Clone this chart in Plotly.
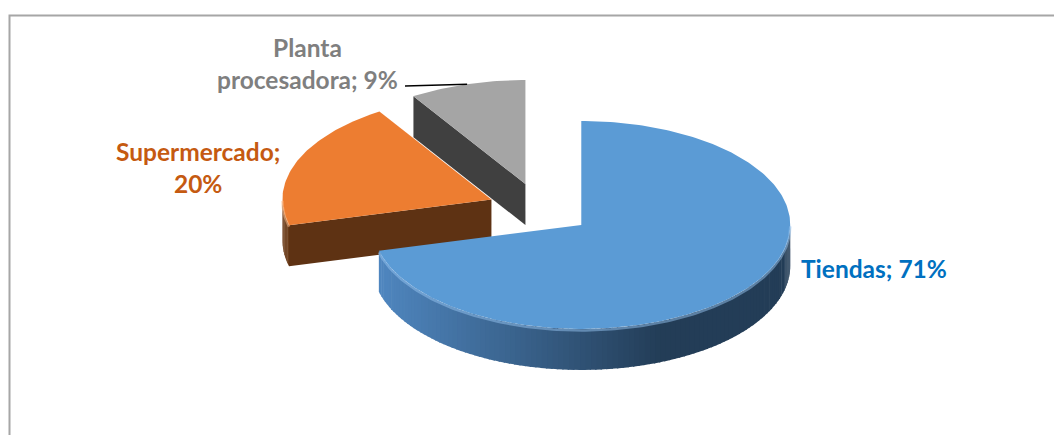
import numpy as np
import plotly.graph_objects as go

# ---- data -------------------------------------------------------------
categories = ["Tiendas", "Supermercado", "Planta procesadora"]
shares = [71, 20, 9]
label_texts = ["Tiendas; 71%", "Supermercado;<br>20%", "Planta<br>procesadora; 9%"]

# ---- styling ----------------------------------------------------------
top_colors = ["#5B9BD5", "#ED7D31", "#A5A5A5"]
wall_light = ["#4F86BF", "#6A3A17", "#404040"]
wall_dark = ["#233D57", "#5E3213", "#404040"]
face_colors = ["#233D57", "#5E3213", "#404040"]
label_colors = ["#0070C0", "#C55A11", "#7F7F7F"]
label_pos = [(799, 268, "left"), (198, 167, "center"), (307, 63, "center")]

W, H = 1054, 435
CX, CY = 540, 209        # centre of the tilted pie (plot units = px)
RX, RY = 209, 104        # ellipse radii of the top face
DEPTH = 41               # thickness of the pie
EXPLODE = 0.25           # slice offset as a fraction of the radius
X_LIGHT, X_DARK = 380, 660  # shading ramp of the curved wall
FONT = "Lato"
FONT_SIZE = 24.5


def rim(theta_deg, cx, cy, dy=0.0):
    t = np.radians(theta_deg)
    return cx + RX * np.sin(t), cy - RY * np.cos(t) + dy


def mix(c1, c2, t):
    a = [int(c1[i:i + 2], 16) for i in (1, 3, 5)]
    b = [int(c2[i:i + 2], 16) for i in (1, 3, 5)]
    return "rgb(%d,%d,%d)" % tuple(round(a[k] + (b[k] - a[k]) * t) for k in range(3))


def poly(xs, ys, color):
    return go.Scatter(x=list(xs), y=list(ys), mode="lines", fill="toself",
                      fillcolor=color, line=dict(width=0, color=color),
                      hoverinfo="skip", showlegend=False)


# slice angles, clockwise from twelve o'clock
total = float(sum(shares))
starts = np.cumsum([0] + shares[:-1]) / total * 360.0
ends = starts + np.array(shares) / total * 360.0
mids = (starts + ends) / 2.0
vertices = [(CX + EXPLODE * RX * np.sin(np.radians(m)),
             CY - EXPLODE * RY * np.cos(np.radians(m))) for m in mids]

fig = go.Figure()

# paint from the back of the pie to the front
order = sorted(range(len(shares)), key=lambda i: vertices[i][1])
for i in order:
    vx, vy = vertices[i]
    s, e = starts[i], ends[i]

    # curved outer wall: only the part facing the viewer
    lo, hi = max(s, 90.0), min(e, 270.0)
    if hi > lo:
        edges = np.linspace(lo, hi, max(2, int((hi - lo) / 1.5) + 1))
        for a0, a1 in zip(edges[:-1], edges[1:]):
            ang = np.linspace(a0, a1 + 0.4 if a1 < hi else a1, 4)
            x_top, y_top = rim(ang, vx, vy)
            x_bot, y_bot = rim(ang[::-1], vx, vy, DEPTH)
            xm = float(np.mean(x_top))
            t = float(np.clip((X_DARK - xm) / (X_DARK - X_LIGHT), 0, 1))
            fig.add_trace(poly(np.r_[x_top, x_bot], np.r_[y_top, y_bot],
                               mix(wall_dark[i], wall_light[i], t)))

    # flat radial faces that turn towards the viewer
    for ang, visible in ((s, np.sin(np.radians(s)) < -1e-9),
                         (e, np.sin(np.radians(e)) > 1e-9)):
        if visible:
            ox, oy = rim(ang, vx, vy)
            fig.add_trace(poly([vx, ox, ox, vx], [vy, oy, oy + DEPTH, vy + DEPTH],
                               face_colors[i]))

    # top face
    ang = np.linspace(s, e, int(e - s) + 2)
    ax, ay = rim(ang, vx, vy)
    fig.add_trace(poly(np.r_[vx, ax, vx], np.r_[vy, ay, vy], top_colors[i]))

    # soft bevel highlight along the front rim
    if hi > lo:
        ang = np.linspace(lo, hi, int(hi - lo) + 2)
        hx, hy = rim(ang, vx, vy, 1.5)
        fig.add_trace(go.Scatter(x=hx, y=hy, mode="lines",
                                 line=dict(width=2.5, color="rgba(150,195,240,0.5)"
                                           if i == 0 else "rgba(255,190,140,0.5)"),
                                 hoverinfo="skip", showlegend=False))

# leader line for the smallest slice
k = 2
lx, ly = rim(mids[k], *vertices[k])
fig.add_trace(go.Scatter(x=[405, lx], y=[86, ly], mode="lines",
                         line=dict(color="black", width=1.5),
                         hoverinfo="skip", showlegend=False))

for txt, col, (x, y, al) in zip(label_texts, label_colors, label_pos):
    fig.add_annotation(x=x, y=y, text="<b>%s</b>" % txt, showarrow=False,
                       xanchor=al, yanchor="middle", align="center",
                       font=dict(family=FONT, size=FONT_SIZE, color=col))

# chart frame
fig.add_shape(type="rect", x0=9.5, y0=15.5, x1=W + 20, y1=H + 20,
              line=dict(color="#A6A6A6", width=2), layer="below")

fig.update_layout(
    width=W, height=H, margin=dict(l=0, r=0, t=0, b=0),
    paper_bgcolor="white", plot_bgcolor="white", showlegend=False,
    xaxis=dict(range=[0, W], visible=False, fixedrange=True),
    yaxis=dict(range=[H, 0], visible=False, fixedrange=True),
)

fig.write_html("out.html")
